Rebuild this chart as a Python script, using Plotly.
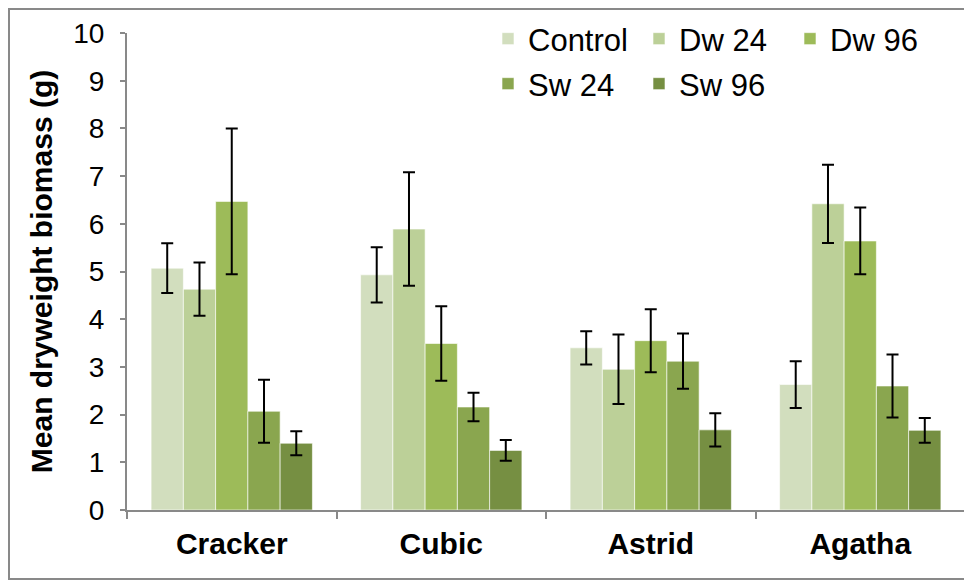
import plotly.graph_objects as go

categories = ["Cracker", "Cubic", "Astrid", "Agatha"]
series_names = ["Control", "Dw 24", "Dw 96", "Sw 24", "Sw 96"]

control = [5.07, 4.93, 3.40, 2.63]
control_err = [0.52, 0.58, 0.35, 0.49]
dw24 = [4.63, 5.89, 2.95, 6.42]
dw24_err = [0.56, 1.19, 0.73, 0.82]
dw96 = [6.47, 3.49, 3.55, 5.64]
dw96_err = [1.53, 0.78, 0.66, 0.70]
sw24 = [2.07, 2.16, 3.12, 2.60]
sw24_err = [0.66, 0.30, 0.58, 0.66]
sw96 = [1.40, 1.25, 1.68, 1.67]
sw96_err = [0.25, 0.22, 0.35, 0.26]

y_ticks = list(range(0, 11))

values = [control, dw24, dw96, sw24, sw96]
errors = [control_err, dw24_err, dw96_err, sw24_err, sw96_err]
colors = ["#D2DEBE", "#BCD098", "#9DBB59", "#8AA64F", "#768F42"]
legends = ["legend", "legend", "legend", "legend2", "legend2"]

FONT = "Liberation Sans, Arial, sans-serif"

fig = go.Figure()
for name, v, e, c, lg in zip(series_names, values, errors, colors, legends):
    fig.add_trace(go.Bar(
        name=name, x=categories, y=v,
        marker=dict(color=c, line=dict(color="rgba(255,255,255,0.6)", width=1)),
        error_y=dict(type="data", array=e, visible=True, color="black",
                     thickness=2, width=6),
        legend=lg,
    ))

# page body has an 8px margin, so figure coords = screen coords - 8
OFF = 8
W, H = 972, 588
# target plot area on screen: x 127..965, y 33..510
L = 127 - OFF
T = 33 - OFF
R = W - (965 - OFF)
B = H - (510 - OFF)
pw = W - L - R
ph = H - T - B

def px_x(sx):
    return (sx - OFF - L) / pw

def px_y(sy):
    return (H - B - (sy - OFF)) / ph

fig.update_layout(
    width=W, height=H,
    margin=dict(l=L, r=R, t=T, b=B, autoexpand=False),
    paper_bgcolor="white", plot_bgcolor="white",
    barmode="group", bargap=0.23, bargroupgap=0,
    font=dict(family=FONT, color="black"),
    xaxis=dict(
        automargin=False,
        showline=True, linecolor="#898989", linewidth=2,
        ticks="outside", tickson="boundaries", ticklen=7, tickcolor="#898989", tickwidth=2,
        tickfont=dict(family=FONT, size=30, color="black", weight="bold"),
        ticklabelstandoff=6,
        showgrid=False, zeroline=False,
    ),
    yaxis=dict(
        automargin=False,
        range=[0, 10], tickvals=y_ticks,
        showline=True, linecolor="#898989", linewidth=2,
        ticks="outside", ticklen=5, tickcolor="#898989", tickwidth=2,
        tickfont=dict(family=FONT, size=28, color="black"),
        ticklabelstandoff=10,
        showgrid=False, zeroline=False,
        title=dict(text="Mean dryweight biomass (g)",
                   font=dict(family=FONT, size=30, color="black", weight="bold"),
                   standoff=12),
    ),
    legend=dict(
        orientation="h", x=px_x(488), y=px_y(39), xanchor="left", yanchor="middle",
        entrywidth=106, font=dict(family=FONT, size=31, color="black"),
        bgcolor="rgba(0,0,0,0)", traceorder="normal",
    ),
    legend2=dict(
        orientation="h", x=px_x(488), y=px_y(84), xanchor="left", yanchor="middle",
        entrywidth=106, font=dict(family=FONT, size=31, color="black"),
        bgcolor="rgba(0,0,0,0)", traceorder="normal",
    ),
    shapes=[dict(type="rect", xref="paper", yref="paper",
                 x0=px_x(9), x1=px_x(966), y0=px_y(579), y1=px_y(9),
                 line=dict(color="#898989", width=2), layer="below")],
)

fig.write_html("out.html")
